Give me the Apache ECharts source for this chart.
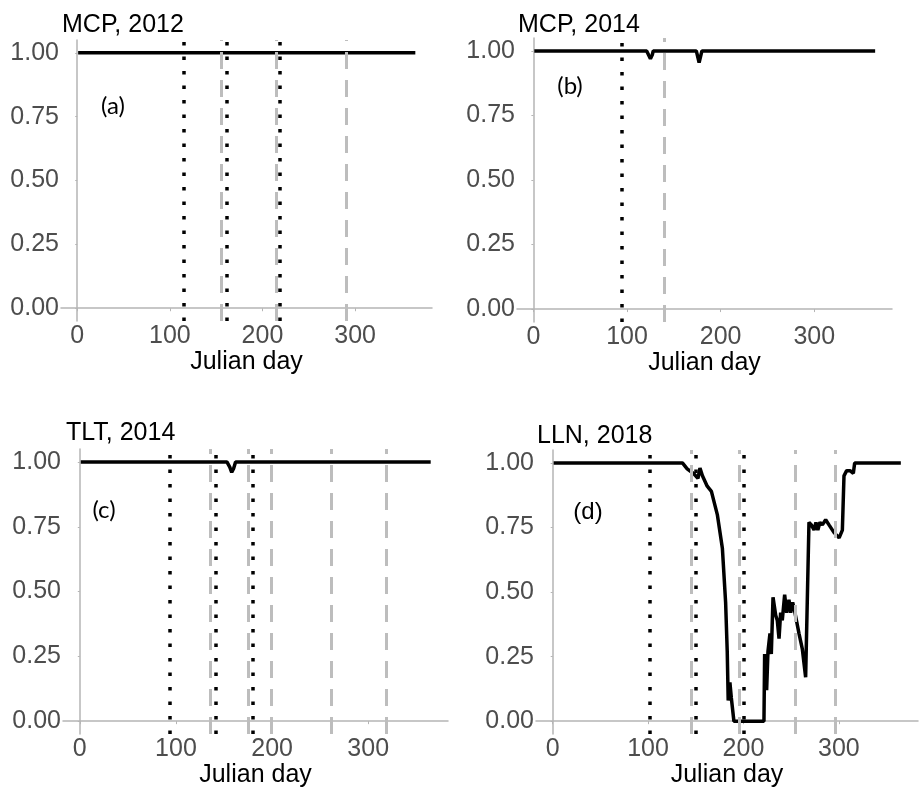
<!DOCTYPE html>
<html>
<head>
<meta charset="utf-8">
<script src="https://cdn.jsdelivr.net/npm/echarts@6/dist/echarts.min.js"></script>
<style>html,body{margin:0;padding:0;background:#fff}#c{width:921px;height:789px}</style>
</head>
<body>
<div id="c"></div>
<script>
// ---- Data ----
const panelTitles = ['MCP, 2012', 'MCP, 2014', 'TLT, 2014', 'LLN, 2018'];
const panelTags = ['(a)', '(b)', '(c)', '(d)'];
const xTicks = [0, 100, 200, 300];
const yTicks = [0, 0.25, 0.5, 0.75, 1];
const xLabel = 'Julian day';

const aDays = [1, 365];
const aVals = [1, 1];
const bDays = [1, 121, 125, 127, 128, 174, 177, 178.5, 180, 365];
const bVals = [1, 1, 0.97, 0.985, 1, 1, 0.955, 0.96, 1, 1];
const cDays = [1, 153, 156, 158, 160, 162, 365];
const cVals = [1, 1, 0.98, 0.96, 0.975, 1, 1];
const dDays = [1, 136, 141, 148, 152.3, 154.4, 157, 162, 166.4, 172.6, 177.9, 181.3, 183, 184, 185.8, 187.3, 190,
  221.5, 222.2, 224.3, 225.7, 227.8, 229.2, 231, 233.8, 235.5, 237.3, 239, 240.7, 243.2, 245.3, 247.7, 249.5, 251.6, 254,
  258.2, 261.7, 265.2, 266.2, 268.7, 271.2, 274, 276, 278, 280.2, 282.7, 286.2, 289.7, 295, 300.3, 303.7, 305.4, 308.2,
  311.7, 315.2, 316.6, 365];
const dVals = [1, 1, 0.977, 0.958, 0.94, 0.98, 0.95, 0.91, 0.89, 0.80, 0.67, 0.46, 0.27, 0.08, 0.15, 0.09, 0,
  0, 0.26, 0.12, 0.27, 0.34, 0.26, 0.48, 0.41, 0.39, 0.32, 0.42, 0.39, 0.49, 0.42, 0.47, 0.42, 0.46, 0.42,
  0.34, 0.28, 0.17, 0.17, 0.77, 0.76, 0.74, 0.77, 0.74, 0.77, 0.76, 0.78, 0.76, 0.73, 0.71, 0.74, 0.95, 0.97,
  0.97, 0.96, 1, 1];

const aDotted = [115, 161, 219];
const aDashed = [156, 215, 290];
const bDotted = [94];
const bDashed = [140];
const cDotted = [94, 141, 180];
const cDashed = [136, 175.5, 199, 261.5, 318.5];
const dDotted = [102, 150.5, 200];
const dDashed = [145.5, 195.5, 254, 296];

// ---- Layout ----
const H = 789;
const grids = [
  {left: 61, top: 40, width: 371, bottom: H - 321},
  {left: 517, top: 38, width: 375, bottom: H - 322},
  {left: 63, top: 449, width: 385, bottom: H - 739},
  {left: 536, top: 450, width: 382, bottom: H - 740}
];
const titlePos = [[62, 13], [518, 13], [66, 421], [537, 424]];
const tagPos = [[113, 106, 'Lato'], [570, 86, 'Lato'], [104, 510, 'Lato'], [588, 512, 'Liberation Sans']];

const days = [aDays, bDays, cDays, dDays];
const vals = [aVals, bVals, cVals, dVals];
const dotted = [aDotted, bDotted, cDotted, dDotted];
const dashed = [aDashed, bDashed, cDashed, dDashed];

const axisColor = '#b5b5b5';
const font = 'Liberation Sans';

const option = {
  animation: false,
  backgroundColor: '#fff',
  title: panelTitles.map((t, i) => ({
    text: t, left: titlePos[i][0], top: titlePos[i][1], padding: 0,
    textStyle: {fontSize: 25, fontWeight: 'normal', color: '#000', fontFamily: font}
  })),
  grid: grids,
  xAxis: grids.map((g, i) => ({
    type: 'value', gridIndex: i, min: -17.5, max: 383,
    splitLine: {show: false},
    axisLine: {lineStyle: {color: axisColor, width: 1.5}},
    axisTick: {show: true, length: 3, customValues: xTicks, lineStyle: {color: axisColor}},
    axisLabel: {customValues: xTicks, fontSize: 25, color: '#4d4d4d', fontFamily: font, margin: 3},
    name: xLabel, nameLocation: 'middle', nameGap: 23,
    nameTextStyle: {fontSize: 25, color: '#000', fontFamily: font}
  })),
  yAxis: grids.map((g, i) => ({
    type: 'value', gridIndex: i, min: -0.05, max: 1.05,
    splitLine: {show: false},
    axisLine: {show: true, lineStyle: {color: axisColor, width: 1.5}},
    axisTick: {show: true, length: 2, customValues: yTicks, lineStyle: {color: axisColor}},
    axisLabel: {customValues: yTicks, fontSize: 25, color: '#4d4d4d', fontFamily: font, margin: 2,
      formatter: v => Number(v).toFixed(2)}
  })),
  graphic: panelTags.map((t, i) => ({
    type: 'text', x: tagPos[i][0], y: tagPos[i][1],
    style: {text: t, fill: '#000', font: '24px ' + tagPos[i][2], align: 'center', verticalAlign: 'middle'}
  })),
  series: days.map((d, i) => ({
    type: 'line', xAxisIndex: i, yAxisIndex: i, showSymbol: false, symbol: 'none',
    lineStyle: {color: '#000', width: 3.5},
    data: d.map((x, k) => [x, vals[i][k]]),
    markLine: {
      silent: true, symbol: ['none', 'none'], label: {show: false}, animation: false,
      data: dashed[i].map(v => ({xAxis: v, lineStyle: {type: [17, 11], color: '#bdbdbd', width: 3}}))
        .concat(dotted[i].map(v => ({xAxis: v, lineStyle: {type: [3.5, 11], color: '#000', width: 3.5}})))
    }
  }))
};

const chart = echarts.init(document.getElementById('c'), null, {renderer: 'canvas'});
chart.setOption(option);
</script>
</body>
</html>
